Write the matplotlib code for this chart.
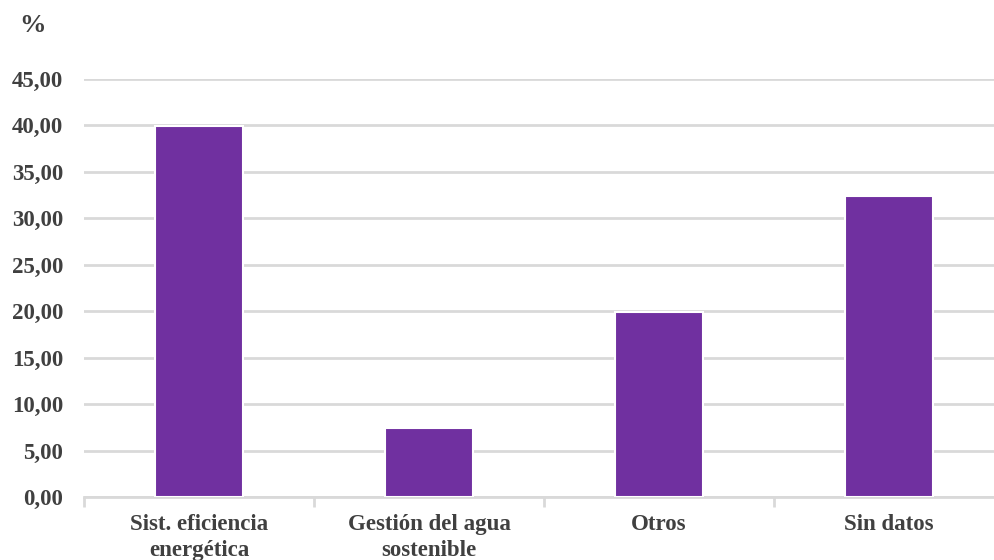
import matplotlib
matplotlib.use("Agg")
import matplotlib.pyplot as plt
from matplotlib.ticker import FixedLocator, FuncFormatter

categories = ["Sist. eficiencia\nenergética", "Gestión del agua\nsostenible", "Otros", "Sin datos"]
values = [39.9, 7.4, 19.9, 32.4]
y_ticks = [0, 5, 10, 15, 20, 25, 30, 35, 40, 45]

BAR = "#7030a0"
GRID = "#d9d9d9"
TEXT = "#404040"

plt.rcParams["font.family"] = ["Liberation Serif", "DejaVu Serif"]
plt.rcParams["font.weight"] = "bold"

fig = plt.figure(figsize=(9.94, 5.60), dpi=100)
ax = fig.add_axes([84 / 994, 63 / 560, 920 / 994, 418 / 560])

x = list(range(len(categories)))
ax.bar(x, values, width=0.385, color=BAR, edgecolor="white", linewidth=1.5, zorder=3)

ax.set_xlim(-0.5, len(categories) - 0.5)
ax.set_ylim(0, 45)
ax.yaxis.set_major_locator(FixedLocator(y_ticks))
ax.yaxis.set_major_formatter(FuncFormatter(lambda v, p: f"{v:.2f}".replace(".", ",")))
ax.grid(axis="y", color=GRID, linewidth=2, zorder=0)
ax.set_axisbelow(True)

for s in ["top", "right", "left"]:
    ax.spines[s].set_visible(False)
ax.spines["bottom"].set_color(GRID)
ax.spines["bottom"].set_linewidth(2)
ax.spines["bottom"].set_zorder(2)

ax.tick_params(axis="y", length=0, pad=15, labelsize=16.5, labelcolor=TEXT)
ax.set_xticks(x)
ax.set_xticklabels(categories, fontsize=16.5, color=TEXT, linespacing=1.3)
ax.tick_params(axis="x", length=0, pad=12.5)
# separators between categories
ax.set_xticks([i - 0.5 for i in range(len(categories) + 1)], minor=True)
ax.tick_params(axis="x", which="minor", length=7, width=2, color=GRID, direction="out")

fig.text(33 / 994, 1 - 25 / 560, "%", fontsize=19, color=TEXT, ha="center", va="center")

fig.savefig("out.png", dpi=100)
